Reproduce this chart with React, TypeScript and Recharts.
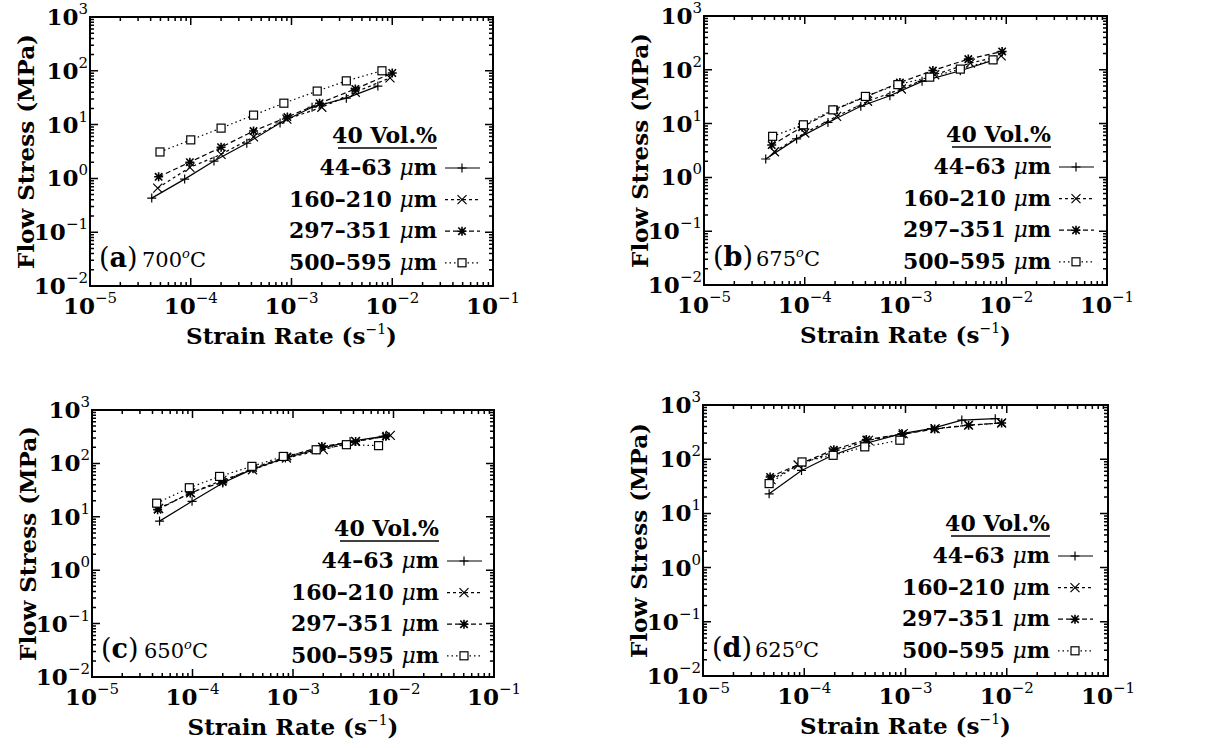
import React from "react"
import { LineChart, Line, XAxis, YAxis, ReferenceArea, ReferenceLine, Legend } from "recharts"

const FONT = "'DejaVu Serif', serif"
const INK = "#000"

// axis decades and minor steps
const xDecades = [-5, -4, -3, -2, -1]
const yDecades = [-2, -1, 0, 1, 2, 3]
const minorSteps = [2, 3, 4, 5, 6, 7, 8, 9]

const sizeLabels = ["44–63", "160–210", "297–351", "500–595"]
const markerKinds = ["plus", "cross", "star", "square"]
const dashStyles = ["", "3 3", "5 3", "1.5 3"]

// (a) 700 C
const a44Rate = [4.1e-5, 8.7e-5, 1.7e-4, 3.6e-4, 7.7e-4, 1.6e-3, 3.5e-3, 7.2e-3]
const a44Stress = [0.43, 0.97, 2.1, 4.5, 10.7, 21, 31, 52]
const a160Rate = [4.7e-5, 9.8e-5, 2.0e-4, 4.2e-4, 9.0e-4, 2.0e-3, 4.3e-3, 9.5e-3]
const a160Stress = [0.66, 1.6, 2.8, 5.9, 12.6, 21, 40, 74]
const a297Rate = [4.8e-5, 9.8e-5, 2.0e-4, 4.2e-4, 9.1e-4, 1.9e-3, 4.3e-3, 1.0e-2]
const a297Stress = [1.07, 2.0, 3.8, 7.6, 13.8, 25, 46, 91]
const a500Rate = [4.95e-5, 1.0e-4, 2.0e-4, 4.2e-4, 8.4e-4, 1.8e-3, 3.5e-3, 7.9e-3]
const a500Stress = [3.1, 5.2, 8.6, 15, 25, 42, 65, 100]

// (b) 675 C
const b44Rate = [4.1e-5, 8.3e-5, 1.7e-4, 3.6e-4, 7.0e-4, 1.46e-3, 3.5e-3, 7.6e-3]
const b44Stress = [2.2, 5.2, 10.5, 21, 33, 61, 96, 153]
const b160Rate = [5.0e-5, 1.0e-4, 2.07e-4, 4.2e-4, 9.1e-4, 1.95e-3, 4.4e-3, 8.9e-3]
const b160Stress = [3.0, 6.7, 13.6, 26, 44, 81, 133, 182]
const b297Rate = [4.7e-5, 9.4e-5, 1.96e-4, 4.1e-4, 8.8e-4, 1.87e-3, 4.2e-3, 9.1e-3]
const b297Stress = [4.0, 8.6, 18, 32, 58, 97, 158, 219]
const b500Rate = [4.8e-5, 9.7e-5, 1.9e-4, 4.0e-4, 8.4e-4, 1.74e-3, 3.5e-3, 7.4e-3]
const b500Stress = [5.8, 9.5, 18, 32, 53, 73, 103, 153]

// (c) 650 C
const c44Rate = [4.7e-5, 9.9e-5, 2.0e-4, 4.0e-4, 8.4e-4, 1.7e-3, 3.7e-3, 7.9e-3]
const c44Stress = [8.3, 19.5, 43, 79, 126, 181, 258, 321]
const c160Rate = [4.6e-5, 9.6e-5, 1.96e-4, 3.95e-4, 8.6e-4, 2.0e-3, 4.2e-3, 9.3e-3]
const c160Stress = [14.3, 28, 48, 76, 126, 181, 258, 335]
const c297Rate = [4.5e-5, 9.5e-5, 2.0e-4, 4.0e-4, 8.8e-4, 1.94e-3, 4.2e-3, 8.4e-3]
const c297Stress = [13.6, 28, 45, 82, 135, 208, 258, 321]
const c500Rate = [4.4e-5, 9.3e-5, 1.86e-4, 3.9e-4, 8.0e-4, 1.7e-3, 3.4e-3, 7.1e-3]
const c500Stress = [18, 35, 57, 88, 135, 180, 224, 215]

// (d) 625 C
const d44Rate = [4.5e-5, 9.4e-5, 1.9e-4, 4.0e-4, 9.2e-4, 1.8e-3, 3.6e-3, 7.7e-3]
const d44Stress = [23, 62, 118, 195, 297, 367, 526, 560]
const d160Rate = [4.7e-5, 8.7e-5, 1.93e-4, 4.3e-4, 9.5e-4, 1.96e-3, 4.2e-3, 8.9e-3]
const d160Stress = [42, 78, 136, 223, 297, 367, 424, 466]
const d297Rate = [4.6e-5, 9.5e-5, 1.96e-4, 4.1e-4, 9.3e-4, 1.94e-3, 4.2e-3, 8.9e-3]
const d297Stress = [47, 85, 150, 230, 288, 360, 424, 466]
const d500Rate = [4.5e-5, 9.5e-5, 1.93e-4, 3.96e-4, 8.8e-4]
const d500Stress = [35.5, 89, 118, 169, 224]

const buildTicks = (decades: number[]) => {
  const out: number[] = []
  decades.forEach((d, i) => {
    out.push(Math.pow(10, d))
    if (i < decades.length - 1) minorSteps.forEach((m) => out.push(m * Math.pow(10, d)))
  })
  return out
}
const xTicks = buildTicks(xDecades)
const yTicks = buildTicks(yDecades)

const zip = (r: number[], s: number[]) => r.map((x, i) => ({ x, y: s[i] }))

const panels = [
  {
    tag: "a", temp: "700", ox: 0, oy: 0, w: 615, h: 374,
    plot: { l: 90, t: 17, r: 493, b: 286 },
    series: [zip(a44Rate, a44Stress), zip(a160Rate, a160Stress), zip(a297Rate, a297Stress), zip(a500Rate, a500Stress)],
  },
  {
    tag: "b", temp: "675", ox: 615, oy: 0, w: 614, h: 374,
    plot: { l: 704, t: 16, r: 1107, b: 285 },
    series: [zip(b44Rate, b44Stress), zip(b160Rate, b160Stress), zip(b297Rate, b297Stress), zip(b500Rate, b500Stress)],
  },
  {
    tag: "c", temp: "650", ox: 0, oy: 374, w: 615, h: 374,
    plot: { l: 92, t: 410, r: 494, b: 677 },
    series: [zip(c44Rate, c44Stress), zip(c160Rate, c160Stress), zip(c297Rate, c297Stress), zip(c500Rate, c500Stress)],
  },
  {
    tag: "d", temp: "625", ox: 615, oy: 374, w: 614, h: 374,
    plot: { l: 703, t: 405, r: 1108, b: 676 },
    series: [zip(d44Rate, d44Stress), zip(d160Rate, d160Stress), zip(d297Rate, d297Stress), zip(d500Rate, d500Stress)],
  },
]

const isMajor = (v: number) => {
  const e = Math.log10(v)
  return Math.abs(e - Math.round(e)) < 1e-6
}

function Marker({ kind, cx, cy }: { kind: string; cx: number; cy: number }) {
  const s = 4.5
  if (kind === "plus")
    return <path d={`M${cx - s},${cy}H${cx + s}M${cx},${cy - s}V${cy + s}`} stroke={INK} strokeWidth={1.2} fill="none" />
  if (kind === "cross")
    return (
      <path
        d={`M${cx - s},${cy - s}L${cx + s},${cy + s}M${cx - s},${cy + s}L${cx + s},${cy - s}`}
        stroke={INK}
        strokeWidth={1.2}
        fill="none"
      />
    )
  if (kind === "star")
    return (
      <path
        d={`M${cx - s},${cy}H${cx + s}M${cx},${cy - s}V${cy + s}M${cx - s + 0.8},${cy - s + 0.8}L${cx + s - 0.8},${cy + s - 0.8}M${cx - s + 0.8},${cy + s - 0.8}L${cx + s - 0.8},${cy - s + 0.8}`}
        stroke={INK}
        strokeWidth={1.6}
        fill="none"
      />
    )
  return <rect x={cx - 4} y={cy - 4} width={8} height={8} stroke={INK} strokeWidth={1.2} fill="#fff" />
}

function Sup10({ x, y, exp, anchor }: { x: number; y: number; exp: number; anchor: "middle" | "end" }) {
  return (
    <text x={x} y={y} textAnchor={anchor} fontFamily={FONT} fontSize={23} fontWeight="bold" fill={INK} stroke="none">
      10
      <tspan dy={-11} fontSize={15} fontWeight="normal">
        {exp < 0 ? "−" + Math.abs(exp) : String(exp)}
      </tspan>
    </text>
  )
}

function LegendBox() {
  return (
    <svg width={180} height={160} style={{ overflow: "visible" }}>
      <text x={117} y={23} textAnchor="end" fontFamily={FONT} fontSize={22} fontWeight="bold">
        40 Vol.%
      </text>
      <line x1={18} x2={117} y1={28} y2={28} stroke={INK} strokeWidth={1.4} />
      {sizeLabels.map((lab, i) => {
        const base = 55 + i * 31.6
        const cy = base - 7
        return (
          <g key={lab}>
            <text x={117} y={base} textAnchor="end" fontFamily={FONT} fontSize={22} fontWeight="bold">
              {lab + " "}
              <tspan fontStyle="italic" fontWeight="normal">μ</tspan>
              m
            </text>
            <line
              x1={125}
              x2={160}
              y1={cy}
              y2={cy}
              stroke={INK}
              strokeWidth={1.2}
              strokeDasharray={dashStyles[i] || undefined}
            />
            <Marker kind={markerKinds[i]} cx={142} cy={cy} />
          </g>
        )
      })}
    </svg>
  )
}

function Panel({ p }: { p: (typeof panels)[number] }) {
  const YW = 60
  const XH = 30
  const plotW = p.plot.r - p.plot.l
  const plotH = p.plot.b - p.plot.t
  const margin = {
    top: p.plot.t - p.oy,
    left: p.plot.l - p.ox - YW,
    right: p.ox + p.w - p.plot.r,
    bottom: p.oy + p.h - p.plot.b - XH,
  }

  // inward ticks on bottom and top edges
  const xTick = (tp: any) => {
    const x = Number(tp.x)
    const y = Number(tp.y)
    const v = tp.payload.value
    const major = isMajor(v)
    const len = major ? 8 : 4
    return (
      <g>
        <path
          d={`M${x},${y}V${y - len}M${x},${y - plotH}V${y - plotH + len}`}
          stroke={INK}
          strokeWidth={1.5}
          fill="none"
        />
        {major && <Sup10 x={x} y={y + 28} exp={Math.round(Math.log10(v))} anchor="middle" />}
      </g>
    )
  }

  // inward ticks on left and right edges
  const yTick = (tp: any) => {
    const x = Number(tp.x)
    const y = Number(tp.y)
    const v = tp.payload.value
    const major = isMajor(v)
    const len = major ? 8 : 4
    return (
      <g>
        <path
          d={`M${x},${y}H${x + len}M${x + plotW},${y}H${x + plotW - len}`}
          stroke={INK}
          strokeWidth={1.5}
          fill="none"
        />
        {major && <Sup10 x={x - 2} y={y + 8} exp={Math.round(Math.log10(v))} anchor="end" />}
      </g>
    )
  }

  const xLabel = (lp: any) => {
    const vb = lp.viewBox
    return (
      <text x={vb.x + vb.width / 2} y={vb.y + 58} textAnchor="middle" fontFamily={FONT} fontSize={23} fontWeight="bold">
        Strain Rate (s
        <tspan dy={-10} fontSize={14} fontWeight="normal">−1</tspan>
        <tspan dy={10}>)</tspan>
      </text>
    )
  }

  const yLabel = (lp: any) => {
    const vb = lp.viewBox
    const cx = vb.x + vb.width - 56
    const cy = vb.y + vb.height / 2
    return (
      <text
        x={cx}
        y={cy}
        transform={`rotate(-90, ${cx}, ${cy})`}
        textAnchor="middle"
        fontFamily={FONT}
        fontSize={23}
        fontWeight="bold"
      >
        Flow Stress (MPa)
      </text>
    )
  }

  const tagLabel = (lp: any) => {
    const vb = lp.viewBox
    const base = vb.y + vb.height - 19
    return (
      <g>
        <text x={vb.x + 9} y={base} fontFamily={FONT} fontSize={27}>
          (<tspan fontWeight="bold">{p.tag}</tspan>)
        </text>
        <text x={vb.x + 52} y={base} fontFamily={FONT} fontSize={21}>
          {p.temp}
          <tspan dy={-9} fontSize={13} fontStyle="italic">o</tspan>
          <tspan dy={9}>C</tspan>
        </text>
      </g>
    )
  }

  return (
    <div style={{ position: "absolute", left: p.ox, top: p.oy }}>
      <LineChart width={p.w} height={p.h} margin={margin}>
        <XAxis
          type="number"
          dataKey="x"
          scale="log"
          domain={[1e-5, 1e-1]}
          ticks={xTicks}
          interval={0}
          allowDataOverflow
          axisLine={{ stroke: INK, strokeWidth: 2 }}
          tickLine={false}
          tickSize={0}
          tickMargin={0}
          height={XH}
          tick={xTick}
          label={xLabel}
        />
        <YAxis
          type="number"
          dataKey="y"
          scale="log"
          domain={[1e-2, 1e3]}
          ticks={yTicks}
          interval={0}
          allowDataOverflow
          axisLine={{ stroke: INK, strokeWidth: 2 }}
          tickLine={false}
          tickSize={0}
          tickMargin={0}
          width={YW}
          tick={yTick}
          label={yLabel}
        />
        <ReferenceLine y={1e3} stroke={INK} strokeWidth={2} ifOverflow="visible" />
        <ReferenceLine x={1e-1} stroke={INK} strokeWidth={2} ifOverflow="visible" />
        <ReferenceArea
          x1={1e-5}
          x2={1e-1}
          y1={1e-2}
          y2={1e3}
          fill="none"
          fillOpacity={0}
          stroke={INK}
          strokeWidth={2}
          ifOverflow="visible"
          label={tagLabel}
        />
        {p.series.map((data, i) => (
          <Line
            key={sizeLabels[i]}
            data={data}
            dataKey="y"
            name={sizeLabels[i]}
            type="linear"
            stroke={INK}
            strokeWidth={1.2}
            strokeDasharray={dashStyles[i] || undefined}
            isAnimationActive={false}
            dot={(dp: any) => <Marker key={dp.index} kind={markerKinds[i]} cx={dp.cx} cy={dp.cy} />}
            activeDot={false}
          />
        ))}
        <Legend
          layout="vertical"
          align="center"
          verticalAlign="middle"
          content={() => <LegendBox />}
          wrapperStyle={{
            left: p.plot.l - p.ox + 230,
            top: p.plot.t - p.oy + 103,
            width: 180,
            height: 160,
          }}
        />
      </LineChart>
    </div>
  )
}

export default function App() {
  return (
    <div style={{ position: "absolute", left: 0, top: 0, width: 1229, height: 748, background: "#fff", fontFamily: FONT }}>
      {panels.map((p) => (
        <Panel key={p.tag} p={p} />
      ))}
    </div>
  )
}
